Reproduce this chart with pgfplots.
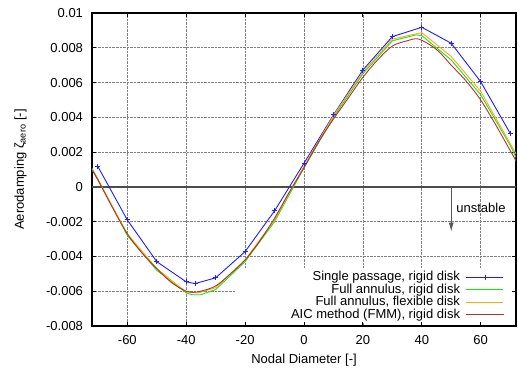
\documentclass[border=0pt]{standalone}
\usepackage{fontspec}
\setmainfont{Liberation Sans}
\usepackage{pgfplots}
\pgfplotsset{compat=1.18}
\usetikzlibrary{arrows.meta}
\definecolor{cblue}{RGB}{30,30,255}
\definecolor{cgreen}{RGB}{20,230,20}
\definecolor{corange}{RGB}{255,165,20}
\definecolor{cred}{RGB}{178,50,50}
\begin{document}
\fontsize{13bp}{15bp}\selectfont
\begin{tikzpicture}[font=\fontsize{13bp}{15bp}\selectfont]
\begin{axis}[
  scale only axis, width=424bp, height=313bp,
  xmin=-72, xmax=72, ymin=-0.008, ymax=0.01,
  xtick={-60,-40,-20,0,20,40,60},
  xticklabels={-60,-40,-20,0,20,40,60},
  ytick={-0.008,-0.006,-0.004,-0.002,0,0.002,0.004,0.006,0.008,0.01},
  yticklabels={-0.008,-0.006,-0.004,-0.002,0,0.002,0.004,0.006,0.008,0.01},
  scaled y ticks=false, scaled x ticks=false,
  tick align=inside, major tick length=4bp,
  axis line style={black, line width=1.2bp},
  tick style={black, line width=0.8bp},
  grid=major,
  major grid style={densely dotted, black!50, line width=0.6bp},
  xticklabel style={yshift=-5bp},
  yticklabel style={xshift=-4.5bp},
  xlabel={Nodal Diameter [-]},
  ylabel={Aerodamping ζ\textsubscript{aero} [-]},
  xlabel style={at={(axis description cs:0.5,-0.1086)}, anchor=center},
  ylabel style={at={(axis description cs:-0.1686,0.5)}, anchor=center},
  legend plot pos=right, legend cell align=right,
  legend style={draw=none, fill=none, at={(rel axis cs:0.972,0.011)}, anchor=south east,
    row sep=-2.8bp, column sep=4bp, inner sep=0pt},
  legend image code/.code={\draw[#1,mark repeat=2,mark phase=2] plot coordinates {(0bp,0bp) (18.5bp,0bp) (37bp,0bp)};},
]
\fill[white] (axis cs:-23.4,-0.00775) rectangle (axis cs:70.6,-0.00465);
\draw[black!70, line width=1.3bp] (axis cs:-72,0) -- (axis cs:72,0);
\addplot[cblue, line width=0.9bp, mark=+, mark size=2.5bp, mark options={solid, line width=0.9bp}] coordinates {
(-70,0.00117) (-60,-0.0019) (-50,-0.0043) (-40,-0.00546) (-37,-0.00556) (-30,-0.00523)
(-20,-0.00372) (-10,-0.00138) (0,0.00136) (10,0.00414) (20,0.00672) (30,0.00864)
(40,0.00918) (50,0.00826) (60,0.00605) (70,0.00309)};
\addlegendentry{Single passage, rigid disk}
\addplot[cgreen, line width=0.9bp] coordinates {
(-72,0.00107) (-70,0.00046) (-60,-0.0028) (-50,-0.0048) (-40,-0.0061) (-38,-0.0062)
(-35,-0.0062) (-30,-0.0059) (-20,-0.0043) (-10,-0.0020) (0,0.0011) (10,0.0040)
(20,0.0065) (30,0.0084) (38,0.00874) (40,0.0087) (50,0.0073) (60,0.0053) (70,0.0024) (72,0.0017)};
\addlegendentry{Full annulus, rigid disk}
\addplot[corange, line width=0.9bp] coordinates {
(-72,0.0010) (-70,0.0004) (-60,-0.0027) (-50,-0.0047) (-40,-0.00605) (-36,-0.0061)
(-30,-0.0058) (-20,-0.0042) (-10,-0.0019) (0,0.0012) (10,0.0041) (20,0.0066)
(30,0.0085) (40,0.00887) (50,0.0075) (60,0.0055) (70,0.0025) (72,0.0019)};
\addlegendentry{Full annulus, flexible disk}
\addplot[cred, line width=0.9bp, smooth] coordinates {
(-72,0.00098) (-70,0.0004) (-65,-0.0012) (-60,-0.0027) (-55,-0.0038) (-50,-0.0047)
(-45,-0.0055) (-40,-0.0060) (-37,-0.00605) (-35,-0.0060) (-30,-0.0057) (-25,-0.0050)
(-20,-0.0042) (-15,-0.0031) (-10,-0.0018) (-5,-0.0003) (0,0.0011) (5,0.0026)
(10,0.0039) (15,0.0051) (20,0.0063) (25,0.0073) (30,0.0081) (35,0.0084) (39,0.0085)
(45,0.0079) (50,0.0070) (55,0.0061) (60,0.0050) (65,0.0036) (70,0.0021) (72,0.0015)};
\addlegendentry{AIC method (FMM), rigid disk}
\draw[black!65, line width=0.9bp, -{Latex[length=9bp,width=5bp]}] (axis cs:50,0) -- (axis cs:50,-0.00257);
\node[anchor=base] at (axis cs:60.1,-0.00148) {unstable};
\end{axis}
\pgfresetboundingbox
\path[use as bounding box] (-92bp,-44bp) rectangle (426bp,326bp);
\end{tikzpicture}
\end{document}
